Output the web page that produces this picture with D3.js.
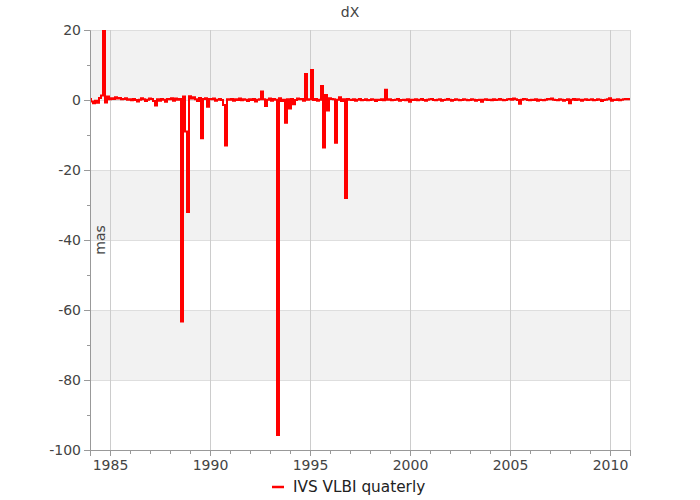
<!DOCTYPE html>
<html><head><meta charset="utf-8">
<script src="https://cdn.jsdelivr.net/npm/d3@7"></script>
<style>body{margin:0;background:#fff}svg{display:block;font-family:"DejaVu Sans",Verdana,sans-serif}</style>
</head><body><div id="chart"></div>
<script>
// dX series (mas), one value every 0.1 year starting 1984.0
const startYear = 1984;
const stepYear = 0.1;
const dx = [
  0.3, -0.4, -0.9, -0.2, -0.8, 0.6, 1.3, 20, -0.7, 1.0,      // 1984
  0.2, 0.5, 0.3, 0.8, 0.4, 0.6, 0.2, 0.3, 0.5, 0.1,          // 1985
  0.2, -0.1, 0.3, 0.0, -0.4, 0.1, 0.5, 0.2, -0.3, 0.1,       // 1986
  0.4, 0.3, -0.3, -1.6, 0.2, -0.2, 0.3, 0.1, -0.5, 0.3,      // 1987
  0.2, 0.5, -0.2, 0.4, 0.1, 0.3, -63.3, 1.0, -9.0, -32.0,    // 1988
  1.1, 0.4, 0.8, 0.2, -0.3, 0.6, -10.9, 0.3, 0.5, -1.9,      // 1989
  0.3, 0.2, 0.4, -0.2, 0.1, 0.3, 0.0, -1.4, -13.0, 0.2,      // 1990
  0.1, 0.3, -0.2, 0.2, 0.0, 0.4, -0.1, 0.2, 0.1, -0.3,       // 1991
  0.2, 0.0, 0.3, -0.4, 0.1, 0.2, 2.4, 0.2, -1.7, 0.1,        // 1992
  0.4, -0.2, 0.3, 0.1, -95.7, 0.5, -0.3, 0.1, -6.5, 0.2,     // 1993
  -2.4, 0.3, -1.2, 0.0, 0.4, 0.2, 0.3, -0.2, 7.4, 0.1,       // 1994
  0.2, 8.6, 0.0, 0.3, -0.2, 0.1, 4.0, -13.6, 1.4, -3.0,      // 1995
  0.5, 0.3, 0.2, -12.2, 0.1, 0.8, -0.3, 0.2, -28.0, 0.3,     // 1996
  0.1, 0.0, 0.2, -0.2, 0.1, 0.3, -0.1, 0.0, 0.2, -0.1,       // 1997
  0.0, 0.2, 0.1, -0.3, 0.1, 0.0, 0.2, -0.1, 2.9, 0.1,        // 1998
  0.2, -0.1, 0.0, 0.1, 0.3, -0.2, 0.0, 0.1, -0.1, 0.2,       // 1999
  -0.5, 0.1, 0.0, 0.2, -0.1, 0.1, 0.3, 0.0, -0.2, 0.1,       // 2000
  0.2, 0.3, 0.0, -0.1, 0.1, 0.2, -0.2, 0.0, 0.1, 0.3,        // 2001
  0.1, -0.2, 0.0, 0.2, 0.1, -0.1, 0.0, 0.2, 0.1, -0.1,       // 2002
  0.0, 0.2, 0.1, -0.2, 0.0, 0.1, -0.5, 0.1, 0.2, 0.0,        // 2003
  0.1, -0.1, 0.2, 0.0, 0.1, 0.3, 0.1, -0.1, 0.0, 0.2,        // 2004
  0.3, 0.1, 0.4, 0.2, 0.0, -1.1, 0.1, 0.3, 0.2, 0.0,         // 2005
  -0.1, 0.1, 0.0, 0.2, -0.2, 0.1, 0.0, -0.1, 0.1, 0.3,       // 2006
  0.2, 0.4, 0.1, 0.0, -0.1, 0.2, 0.1, -0.2, 0.0, 0.2,        // 2007
  -0.9, 0.1, 0.3, 0.0, 0.2, 0.1, -0.2, 0.1, 0.2, 0.0,        // 2008
  0.1, 0.2, -0.1, 0.0, 0.2, 0.1, -0.3, 0.0, 0.1, 0.2,        // 2009
  0.5, -0.2, 0.1, 0.0, 0.2, -0.1, 0.1, 0.2, 0.3, 0.2,        // 2010
  0.3                                                        // 2011
];
const xMajorTicks = [1985, 1990, 1995, 2000, 2005, 2010];
const yMajorTicks = [20, 0, -20, -40, -60, -80, -100];
const yMinorTicks = [10, -10, -30, -50, -70, -90];
const bands = [[0, 20], [-40, -20], [-80, -60]];
const seriesName = "IVS VLBI quaterly";
const titleText = "dX";
const yLabel = "mas";

const W = 700, H = 500;
const m = {left: 90, right: 70, top: 30, bottom: 50};
const iw = W - m.left - m.right, ih = H - m.top - m.bottom;

const data = dx.map((v, i) => ({t: startYear + i * stepYear, v}));

const x = d3.scaleLinear().domain([1984, 2011]).range([0, iw]);
const y = d3.scaleLinear().domain([-100, 20]).range([ih, 0]);

const svg = d3.select("#chart").append("svg").attr("width", W).attr("height", H);
const g = svg.append("g").attr("transform", `translate(${m.left},${m.top})`);

// bands
g.selectAll("rect.band").data(bands).join("rect")
  .attr("x", 0).attr("width", iw)
  .attr("y", d => y(d[1])).attr("height", d => y(d[0]) - y(d[1]))
  .attr("fill", "#f2f2f2");

// horizontal grid
g.selectAll("line.hg").data(yMajorTicks).join("line")
  .attr("x1", 0).attr("x2", iw).attr("y1", d => y(d) + 0.5).attr("y2", d => y(d) + 0.5)
  .attr("stroke", "#dedede").attr("stroke-width", 1);

// vertical grid
g.selectAll("line.vg").data(xMajorTicks).join("line")
  .attr("x1", d => Math.round(x(d)) + 0.5).attr("x2", d => Math.round(x(d)) + 0.5)
  .attr("y1", 0).attr("y2", ih)
  .attr("stroke", "#cccccc").attr("stroke-width", 1);

// right border
g.append("line").attr("x1", iw + 0.5).attr("x2", iw + 0.5).attr("y1", 0).attr("y2", ih)
  .attr("stroke", "#d8d8d8");

// clip
svg.append("defs").append("clipPath").attr("id", "clip")
  .append("rect").attr("x", 0).attr("y", 0).attr("width", iw).attr("height", ih);

// line
const line = d3.line().curve(d3.curveStep).x(d => x(d.t)).y(d => y(d.v));
g.append("path").datum(data)
  .attr("clip-path", "url(#clip)")
  .attr("d", line)
  .attr("fill", "none").attr("stroke", "#ff0000").attr("stroke-width", 2)
  .attr("stroke-linejoin", "miter");

// axes
const fmt = d => String(d);
g.append("g").attr("class", "axis")
  .call(d3.axisLeft(y).tickValues(yMajorTicks).tickFormat(fmt).tickSize(6).tickPadding(3));
g.append("g").attr("class", "axis minor")
  .call(d3.axisLeft(y).tickValues(yMinorTicks).tickFormat("").tickSize(3));
g.append("g").attr("class", "axis").attr("transform", `translate(0,${ih})`)
  .call(d3.axisBottom(x).tickValues(xMajorTicks).tickFormat(fmt).tickSize(6).tickPadding(4));
g.append("g").attr("class", "axis minor").attr("transform", `translate(0,${ih})`)
  .call(d3.axisBottom(x).tickValues(d3.range(1984, 2012).filter(v => v % 5 !== 0)).tickFormat("").tickSize(4));

g.selectAll(".axis path.domain").attr("stroke", "#999");
g.selectAll(".axis line").attr("stroke", "#999");
g.selectAll(".axis text").attr("fill", "#444").style("font-size", "14px")
  .style("font-family", '"DejaVu Sans",Verdana,sans-serif');
g.selectAll(".minor path.domain").remove();

// title
svg.append("text").attr("x", 350).attr("y", 17).attr("text-anchor", "middle")
  .attr("fill", "#444").style("font-size", "14px").text(titleText);

// y label
svg.append("text").attr("transform", `translate(105,240) rotate(-90)`)
  .attr("text-anchor", "middle").attr("fill", "#444").style("font-size", "14px").text(yLabel);

// legend
const lg = svg.append("g").attr("transform", "translate(272,487)");
lg.append("line").attr("x1", 0).attr("x2", 12).attr("y1", 0).attr("y2", 0)
  .attr("stroke", "#ff0000").attr("stroke-width", 2.5);
lg.append("text").attr("x", 21).attr("y", 5).attr("fill", "#222")
  .style("font-size", "15.3px").text(seriesName);
</script></body></html>
